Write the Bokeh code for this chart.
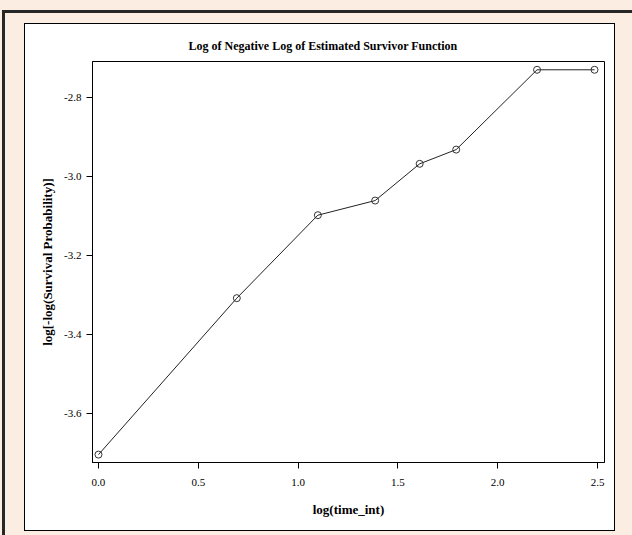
from bokeh.plotting import figure
from bokeh.models import FixedTicker, Range1d, ColumnDataSource
from bokeh.embed import file_html
from bokeh.resources import INLINE

# data
log_time = [0.0, 0.693, 1.099, 1.386, 1.609, 1.792, 2.197, 2.485]
log_neg_log_surv = [-3.704, -3.308, -3.098, -3.061, -2.968, -2.932, -2.730, -2.730]
x_ticks = [0.0, 0.5, 1.0, 1.5, 2.0, 2.5]
x_tick_labels = ["0.0", "0.5", "1.0", "1.5", "2.0", "2.5"]
y_ticks = [-3.6, -3.4, -3.2, -3.0, -2.8]
y_tick_labels = ["-3.6", "-3.4", "-3.2", "-3.0", "-2.8"]

CREAM = "#FCEDE2"
SERIF = "Liberation Serif"

src = ColumnDataSource(data=dict(x=log_time, y=log_neg_log_surv))

p = figure(frame_width=512, frame_height=401,
           min_border_left=92, min_border_right=28,
           min_border_top=61, min_border_bottom=73,
           x_range=Range1d(-0.03, 2.535), y_range=Range1d(-3.724, -2.709),
           output_backend="svg", toolbar_location=None,
           title="Log of Negative Log of Estimated Survivor Function")

# transparent border area; the page decoration is painted by CSS behind it
p.border_fill_color = None
p.border_fill_alpha = 0
p.background_fill_color = "white"
p.outline_line_color = "black"
p.outline_line_alpha = 1.0
p.outline_line_width = 1
p.grid.visible = False


def rect(color, x, y, w, h):
    return f"linear-gradient({color}, {color}) {x}px {y}px / {w}px {h}px no-repeat"


p.styles = {
    "background": ", ".join([
        rect("#ffffff", 25, 24, 589, 506),    # white panel
        rect("#000000", 24, 23, 591, 508),    # panel border
        rect("#262626", 2, 10, 630, 3),       # heavy top rule
        rect("#262626", 2, 10, 3, 525),       # heavy left rule
    ]) + f", {CREAM}",
}

p.title.text_font = SERIF
p.title.text_font_size = "12px"
p.title.text_font_style = "bold"
p.title.text_color = "black"
p.title.align = "left"
p.title.offset = 96
p.title.standoff = 18

for ax, ticks, labels in ((p.xaxis[0], x_ticks, x_tick_labels), (p.yaxis[0], y_ticks, y_tick_labels)):
    ax.ticker = FixedTicker(ticks=ticks)
    ax.major_label_overrides = {t: l for t, l in zip(ticks, labels)}
    ax.minor_tick_line_color = None
    ax.major_tick_in = 0
    ax.major_tick_out = 6
    ax.major_tick_line_color = "black"
    ax.axis_line_color = "black"
    ax.major_label_text_font = SERIF
    ax.major_label_text_font_size = "11px"
    ax.major_label_text_color = "black"
    ax.axis_label_text_font = SERIF
    ax.axis_label_text_font_size = "13px"
    ax.axis_label_text_font_style = "bold"
    ax.axis_label_text_color = "black"

p.xaxis.axis_label = "log(time_int)"
p.yaxis.axis_label = "log[-log(Survival Probability)]"
p.xaxis.major_label_standoff = 10
p.xaxis.axis_label_standoff = 13
p.yaxis.major_label_standoff = 5
p.yaxis.axis_label_standoff = 6

p.line("x", "y", source=src, line_color="#222222", line_width=1)
p.scatter("x", "y", source=src, marker="circle", size=7,
          fill_color=None, line_color="#333333", line_width=1)

open("out.html", "w").write(file_html(p, INLINE))
